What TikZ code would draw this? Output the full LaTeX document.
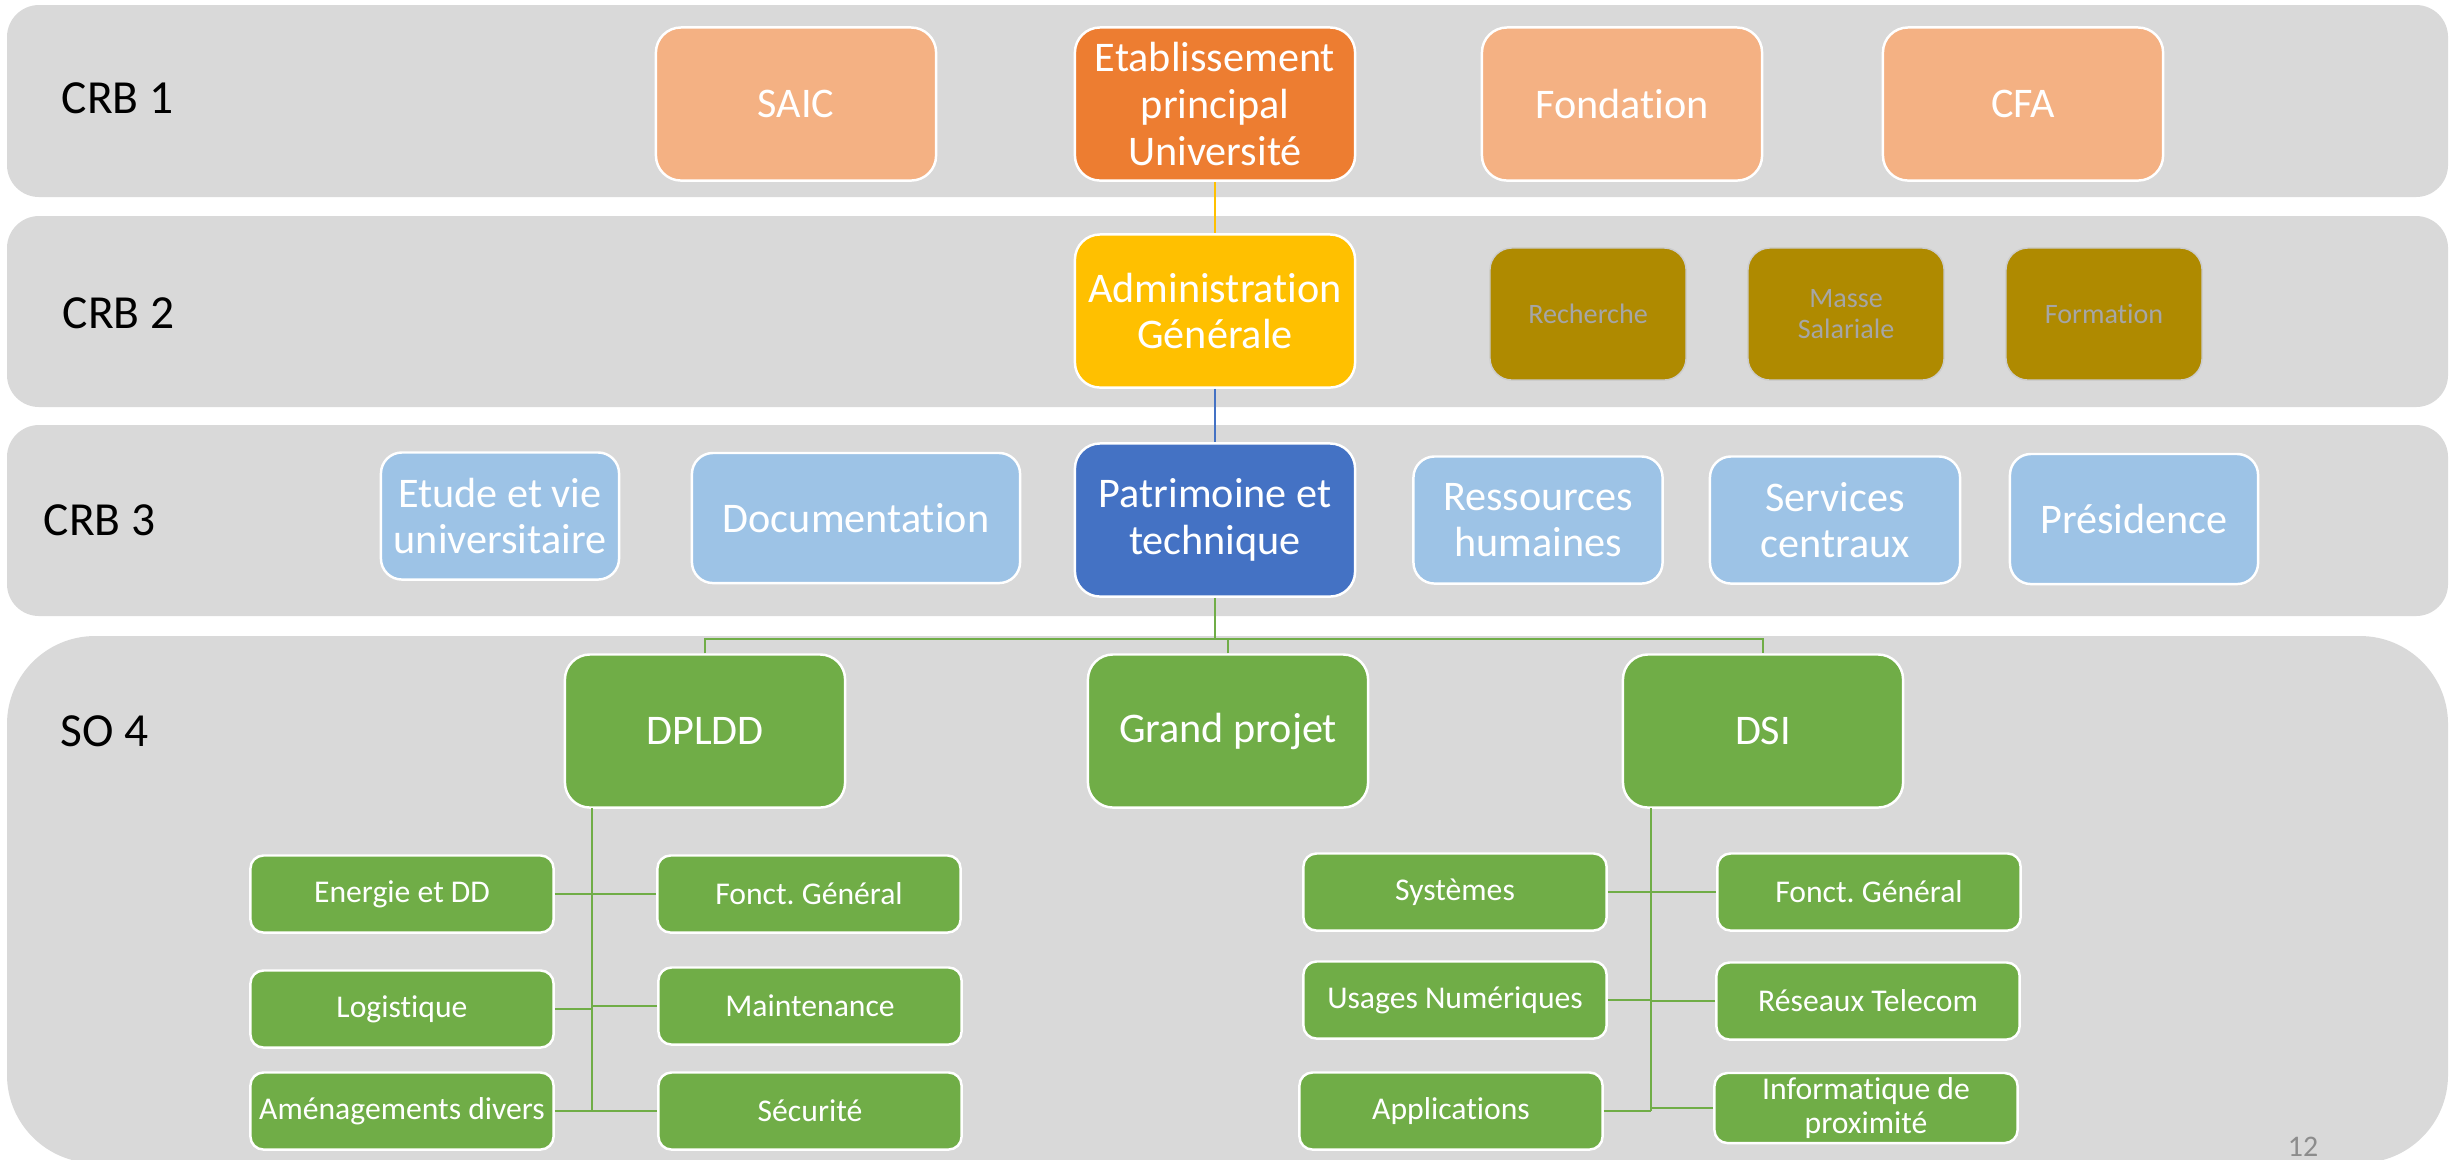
\documentclass[tikz,border=0pt]{standalone}
\usepackage{fontspec}
\setmainfont{Carlito}[Ligatures=NoCommon]
\frenchspacing

\definecolor{bandgray}{HTML}{D9D9D9}
\definecolor{peach}{HTML}{F4B183}
\definecolor{deeporange}{HTML}{ED7D31}
\definecolor{gold}{HTML}{FFC000}
\definecolor{olivegold}{HTML}{AF8A00}
\definecolor{skyblue}{HTML}{9DC3E6}
\definecolor{royalblue}{HTML}{4472C4}
\definecolor{leafgreen}{HTML}{70AD47}

\tikzset{
    band/.style={fill=bandgray},
    tier/.style={anchor=west, inner sep=0pt, text=black, font=\fontsize{13.5}{16}\selectfont},
    unit/.style={rectangle, rounded corners=0.25cm, draw=white, line width=0.7pt,
        text=white, align=center, inner sep=0pt, minimum width=2.8cm,
        minimum height=1.53cm, font=\fontsize{12}{13.3}\selectfont},
    service/.style={unit, fill=skyblue, rounded corners=0.21cm, minimum height=1.27cm},
    budget/.style={rectangle, rounded corners=0.22cm, fill=olivegold, draw=black!20,
        line width=0.4pt, text=black!35, align=center, minimum width=1.96cm,
        minimum height=1.32cm, font=\fontsize{8}{9}\selectfont},
    sub/.style={unit, fill=leafgreen, rounded corners=0.13cm, minimum width=3.03cm,
        minimum height=0.77cm, font=\fontsize{9}{9.4}\selectfont},
    link/.style={draw=leafgreen, line width=0.55pt}
}

\begin{document}
\begin{tikzpicture}[x=0.01cm, y=-0.01cm]
    \useasboundingbox (0,0) rectangle (2458,1159);

    % Background bands
    \fill[band, rounded corners=0.32cm] (7,5) rectangle (2448,197);
    \fill[band, rounded corners=0.32cm] (7,216) rectangle (2448,407);
    \fill[band, rounded corners=0.32cm] (7,425) rectangle (2448,616);
    \fill[band, rounded corners=0.88cm] (7,636) rectangle (2448,1163);

    % Tier labels
    \node[tier] (crb1) at (61,98) {CRB 1};
    \node[tier] (crb2) at (62,313) {CRB 2};
    \node[tier] (crb3) at (43,520) {CRB 3};
    \node[tier] (so4) at (60,731) {SO 4};

    % CRB 1
    \node[unit, fill=peach] (saic) at (796,104) {SAIC};
    \node[unit, fill=deeporange] (etab) at (1215,104) {Etablissement\\principal\\Université};
    \node[unit, fill=peach] (fond) at (1622,104) {Fondation};
    \node[unit, fill=peach] (cfa) at (2023,104) {CFA};

    % CRB 2
    \node[unit, fill=gold] (admin) at (1215,311) {Administration\\Générale};
    \node[budget] (rech) at (1588,314) {Recherche};
    \node[budget] (masse) at (1846,314) {Masse\\Salariale};
    \node[budget] (form) at (2104,314) {Formation};

    % CRB 3
    \node[service, minimum width=2.38cm] (etude) at (500,516) {Etude et vie\\universitaire};
    \node[service, minimum width=3.28cm, minimum height=1.3cm] (doc) at (856,518) {Documentation};
    \node[unit, fill=royalblue] (pat) at (1215,520) {Patrimoine et\\technique};
    \node[service, minimum width=2.49cm] (rh) at (1538,520) {Ressources\\humaines};
    \node[service, minimum width=2.5cm] (serv) at (1835,520) {Services\\centraux};
    \node[service, minimum width=2.48cm, minimum height=1.3cm] (pres) at (2134,519) {Présidence};

    % SO 4
    \node[unit, fill=leafgreen] (dpldd) at (705,731) {DPLDD};
    \node[unit, fill=leafgreen] (gp) at (1228,731) {Grand projet};
    \node[unit, fill=leafgreen] (dsi) at (1763,731) {DSI};

    \node[sub] (energ) at (402,894) {Energie et DD};
    \node[sub] (logi) at (402,1009) {Logistique};
    \node[sub] (amen) at (402,1111) {Aménagements divers};
    \node[sub] (fgen) at (809,894) {Fonct. Général};
    \node[sub] (maint) at (810,1006) {Maintenance};
    \node[sub] (secu) at (810,1111) {Sécurité};

    \node[sub] (syst) at (1455,892) {Systèmes};
    \node[sub] (usag) at (1455,1000) {Usages Numériques};
    \node[sub] (appl) at (1451,1111) {Applications};
    \node[sub] (fgsi) at (1869,892) {Fonct. Général};
    \node[sub] (reso) at (1868,1001) {Réseaux Telecom};
    \node[sub, minimum height=0.7cm] (info) at (1866,1108) {Informatique de\\proximité};

    % Page number
    \node[anchor=south, inner sep=0pt, text=black!45, font=\fontsize{8.5}{10}\selectfont] (page) at (2303,1157) {12};

    % Connectors
    \draw[gold, line width=0.4pt] (etab.south) -- (admin.north);
    \draw[royalblue, line width=0.4pt] (admin.south) -- (pat.north);

    \coordinate (hub) at (1215,639);
    \draw[link] (pat.south) -- (hub);
    \draw[link] (dpldd.north) |- (hub) -| (dsi.north);
    \draw[link] (gp.north) -- (gp.north |- hub);

    \coordinate (lspine) at (592,808);
    \draw[link] (lspine) -- (lspine |- amen.east);
    \foreach \n in {energ, logi, amen}
        \draw[link] (\n.east) -- (\n.east -| lspine);
    \foreach \n in {fgen, maint, secu}
        \draw[link] (\n.west) -- (\n.west -| lspine);

    \coordinate (rspine) at (1651,808);
    \draw[link] (rspine) -- (rspine |- appl.east);
    \foreach \n in {syst, usag, appl}
        \draw[link] (\n.east) -- (\n.east -| rspine);
    \foreach \n in {fgsi, reso, info}
        \draw[link] (\n.west) -- (\n.west -| rspine);
\end{tikzpicture}
\end{document}
